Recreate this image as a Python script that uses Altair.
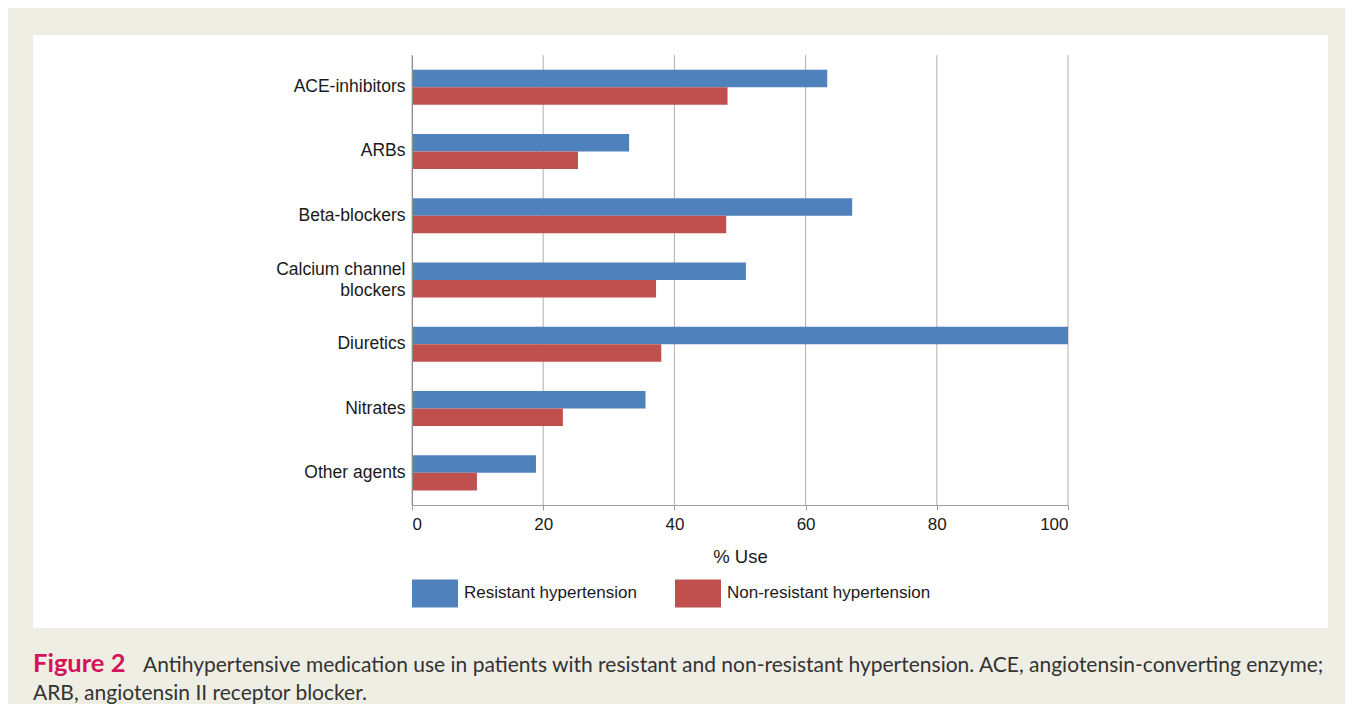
import altair as alt
import pandas as pd

categories = ["ACE-inhibitors", "ARBs", "Beta-blockers", "Calcium channel blockers",
              "Diuretics", "Nitrates", "Other agents"]
resistant = [63.3, 33.1, 67.1, 50.9, 100.0, 35.6, 18.9]
non_resistant = [48.1, 25.3, 47.9, 37.2, 38.0, 23.0, 9.9]
series = ["Resistant hypertension", "Non-resistant hypertension"]
colors = ["#4f81bd", "#c0504d"]
tick_values = [0, 20, 40, 60, 80, 100]
caption_label = ["Figure 2"]
caption_line1 = ["Antihypertensive medication use in patients with resistant and non-resistant hypertension. ACE, angiotensin-converting enzyme;"]
caption_line2 = ["ARB, angiotensin II receptor blocker."]

rows = []
for c, r, n in zip(categories, resistant, non_resistant):
    rows.append({"cat": c, "series": series[0], "value": r})
    rows.append({"cat": c, "series": series[1], "value": n})
df = pd.DataFrame(rows)

W, H = 656, 450
FONT = "Liberation Sans"
CAP_FONT = "Lato"
xscale = alt.Scale(domain=[0, 100], nice=False, zero=True)

x_axis = alt.Axis(values=tick_values, title="% Use", grid=False,
                  domainColor="#a0a0a0", tickColor="#a0a0a0", tickSize=5,
                  labelFont=FONT, labelFontSize=17, labelColor="#1a1a1a",
                  labelPadding=6, titleFont=FONT, titleFontSize=18.5,
                  titleFontWeight="normal", titleColor="#1a1a1a",
                  titlePadding=15, zindex=1)

panel = alt.Chart(pd.DataFrame({"k": [0]})).mark_rect(color="white").encode(
    x=alt.value(-379), x2=alt.value(916), y=alt.value(-20), y2=alt.value(573)
)

grid = alt.Chart(pd.DataFrame({"value": tick_values})).mark_rule(
    color="#b8acac", strokeWidth=1
).encode(
    x=alt.X("value:Q", scale=xscale, axis=x_axis),
    y=alt.value(0), y2=alt.value(H)
)

bars = alt.Chart(df).mark_bar().encode(
    x=alt.X("value:Q", scale=xscale, axis=x_axis),
    y=alt.Y("cat:N", sort=categories,
            scale=alt.Scale(paddingInner=0.455, paddingOuter=0.2275),
            axis=alt.Axis(title=None, ticks=False, domainColor="#8c8c8c",
                          labelFont=FONT, labelFontSize=17.5, labelColor="#1a1a1a",
                          labelPadding=7, labelLineHeight=21, zindex=1, labelLimit=300,
                          labelOffset={"condition": {"test": "datum.value == 'Calcium channel blockers'",
                                                     "value": -10},
                                       "value": 0},
                          labelExpr="datum.value == 'Calcium channel blockers' ? ['Calcium channel', 'blockers'] : datum.value")),
    yOffset=alt.YOffset("series:N", sort=series),
    color=alt.Color("series:N", sort=series,
                    scale=alt.Scale(domain=series, range=colors),
                    legend=alt.Legend(title=None, orient="none", legendX=0, legendY=515,
                                      direction="horizontal",
                                      symbolType="M-1,-0.61H1V0.61H-1Z",
                                      symbolSize=2116, symbolStrokeWidth=0,
                                      symbolOpacity=1, labelLimit=400,
                                      labelFont=FONT, labelFontSize=17,
                                      labelColor="#1a1a1a", labelOffset=6,
                                      columnPadding=38, zindex=1)),
)

cap1 = alt.Chart(pd.DataFrame({"t": caption_label})).mark_text(
    align="left", baseline="alphabetic", font=CAP_FONT, fontSize=25.5,
    fontWeight="bold", color="#d4145a"
).encode(text="t:N", x=alt.value(-379), y=alt.value(617))

cap2 = alt.Chart(pd.DataFrame({"t": caption_line1})).mark_text(
    align="left", baseline="alphabetic", font=CAP_FONT, fontSize=21, color="#333333"
).encode(text="t:N", x=alt.value(-269), y=alt.value(617))

cap3 = alt.Chart(pd.DataFrame({"t": caption_line2})).mark_text(
    align="left", baseline="alphabetic", font=CAP_FONT, fontSize=21, color="#333333"
).encode(text="t:N", x=alt.value(-379), y=alt.value(645))

chart = alt.layer(panel, grid, bars, cap1, cap2, cap3).properties(
    width=W, height=H,
    autosize=alt.AutoSizeParams(type="none"),
    padding={"left": 404, "top": 47, "right": 277, "bottom": 199},
    background="#efeee4",
).configure_view(stroke=None)

chart.save("out.html", embed_options={"renderer": "svg", "actions": False})
